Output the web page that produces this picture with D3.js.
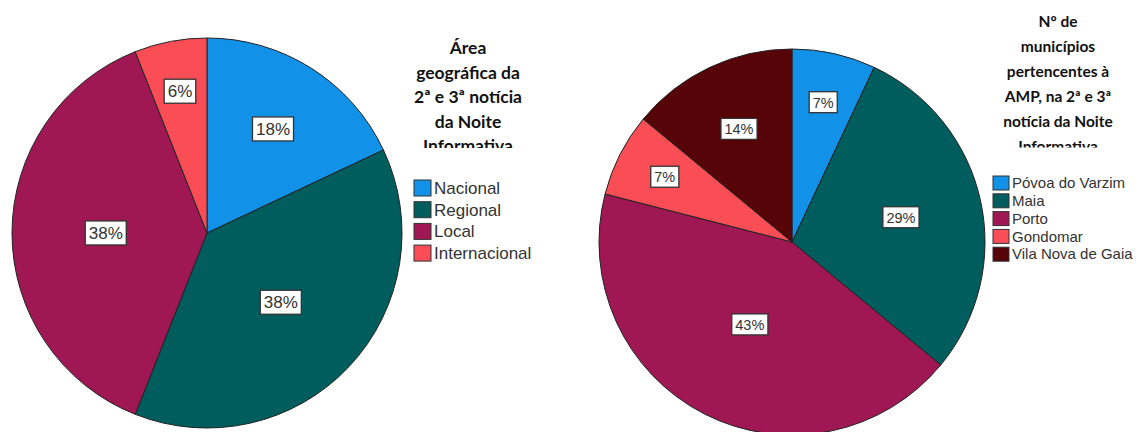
<!DOCTYPE html>
<html>
<head>
<meta charset="utf-8">
<script src="https://cdn.jsdelivr.net/npm/d3@7"></script>
<style>
  body { margin: 0; background: #fff; }
  svg { display: block; }
  .title { font-family: Lato, "Open Sans", sans-serif; font-weight: bold; fill: #111; }
  .legend text { font-family: "Liberation Sans", Arial, sans-serif; fill: #333; }
  .label text { font-family: "Liberation Sans", Arial, sans-serif; fill: #333; }
</style>
</head>
<body>
<div id="chart"></div>
<script>
// Data
const leftCategories = ["Nacional", "Regional", "Local", "Internacional"];
const leftValues = [18, 38, 38, 6];
const leftColors = ["#1192e8", "#005d5d", "#9f1853", "#fa4d56"];
const leftTitle = ["Área", "geográfica da", "2ª e 3ª notícia", "da Noite", "Informativa"];

const rightCategories = ["Póvoa do Varzim", "Maia", "Porto", "Gondomar", "Vila Nova de Gaia"];
const rightValues = [7, 29, 43, 7, 14];
const rightColors = ["#1192e8", "#005d5d", "#9f1853", "#fa4d56", "#570408"];
const rightTitle = ["Nº de", "municípios", "pertencentes à", "AMP, na 2ª e 3ª", "notícia da Noite", "Informativa"];

const width = 1136, height = 432;

const svg = d3.select("#chart")
    .append("svg")
    .attr("width", width)
    .attr("height", height);

function drawPie(opts) {
    const data = opts.categories.map((c, i) => ({ name: c, value: opts.values[i], color: opts.colors[i] }));
    const r = opts.radius;

    const pie = d3.pie().sort(null).value(d => d.value);
    const arc = d3.arc().innerRadius(0).outerRadius(r);
    const arcs = pie(data);

    const g = svg.append("g").attr("transform", `translate(${opts.cx},${opts.cy})`);

    g.selectAll("path")
        .data(arcs)
        .enter()
        .append("path")
        .attr("d", arc)
        .attr("fill", d => d.data.color)
        .attr("stroke", "#222")
        .attr("stroke-width", 1);

    // labels at the slice centroid, thin slices get pushed outwards
    const labels = g.selectAll(".label")
        .data(arcs)
        .enter()
        .append("g")
        .attr("class", "label")
        .attr("transform", d => {
            const theta = d.endAngle - d.startAngle;
            let dist = 4 * r * Math.sin(theta / 2) / (3 * theta);
            if (theta < 0.1 * 2 * Math.PI) dist = 0.74 * r;
            const mid = (d.startAngle + d.endAngle) / 2;
            return `translate(${Math.sin(mid) * dist},${-Math.cos(mid) * dist})`;
        });

    labels.append("text")
        .attr("text-anchor", "middle")
        .attr("dy", "0.35em")
        .style("font-size", opts.labelSize + "px")
        .text(d => d.data.value + "%");

    labels.each(function () {
        const t = d3.select(this).select("text");
        const b = t.node().getBBox();
        d3.select(this).insert("rect", "text")
            .attr("x", b.x - 3.5)
            .attr("y", b.y - 3)
            .attr("width", b.width + 7)
            .attr("height", b.height + 5)
            .attr("fill", "#fff")
            .attr("stroke", "#333")
            .attr("stroke-width", 1.3);
    });

    // Title (last line is cut off like in the original)
    const clipId = opts.id + "-clip";
    svg.append("clipPath")
        .attr("id", clipId)
        .append("rect")
        .attr("x", opts.titleX - 120)
        .attr("y", 0)
        .attr("width", 240)
        .attr("height", opts.titleClip);

    svg.append("text")
        .attr("class", "title")
        .attr("clip-path", `url(#${clipId})`)
        .attr("text-anchor", "middle")
        .style("font-size", opts.titleSize + "px")
        .selectAll("tspan")
        .data(opts.title)
        .enter()
        .append("tspan")
        .attr("x", opts.titleX)
        .attr("y", (d, i) => opts.titleY + i * opts.titleStep)
        .text(d => d);

    // Legend
    const legend = svg.append("g")
        .attr("class", "legend")
        .attr("transform", `translate(${opts.legendX},${opts.legendY})`);

    const rows = legend.selectAll("g")
        .data(data)
        .enter()
        .append("g")
        .attr("transform", (d, i) => `translate(0,${i * opts.legendStep})`);

    rows.append("rect")
        .attr("x", 0)
        .attr("y", -opts.swatchH / 2)
        .attr("width", opts.swatchW)
        .attr("height", opts.swatchH)
        .attr("fill", d => d.color)
        .attr("stroke", "#333")
        .attr("stroke-width", 1);

    rows.append("text")
        .attr("x", opts.swatchW + 3)
        .attr("dy", "0.35em")
        .style("font-size", opts.legendSize + "px")
        .text(d => d.name);
}

drawPie({
    id: "left",
    categories: leftCategories, values: leftValues, colors: leftColors,
    cx: 207, cy: 233, radius: 195, labelSize: 17,
    title: leftTitle, titleX: 468, titleY: 54, titleStep: 24.5, titleSize: 17.5, titleClip: 148,
    legendX: 414, legendY: 188, legendStep: 21.7, swatchW: 17, swatchH: 16, legendSize: 17
});

drawPie({
    id: "right",
    categories: rightCategories, values: rightValues, colors: rightColors,
    cx: 792, cy: 242, radius: 193, labelSize: 14.5,
    title: rightTitle, titleX: 1058, titleY: 27, titleStep: 25, titleSize: 15.5, titleClip: 147.5,
    legendX: 993, legendY: 183, legendStep: 17.8, swatchW: 16, swatchH: 14, legendSize: 15
});
</script>
</body>
</html>
